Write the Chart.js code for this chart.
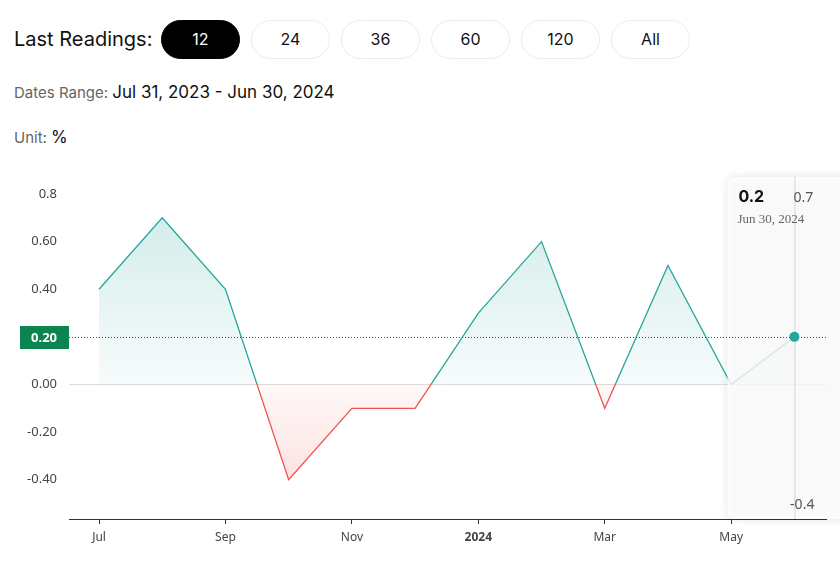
<!DOCTYPE html>
<html>
<head>
<meta charset="utf-8">
<script src="https://cdn.jsdelivr.net/npm/chart.js@4.4.1/dist/chart.umd.min.js"></script>
<style>
  body { margin: 0; width: 840px; height: 578px; overflow: hidden; background: #fff; font-family: Inter, "Noto Sans", sans-serif; }
  .label { position: absolute; left: 14px; top: 20px; height: 39px; line-height: 39px; font-size: 20px; color: #111; }
  .btns { position: absolute; left: 161px; top: 20px; display: flex; gap: 11px; }
  .btn { width: 77px; height: 37px; border: 1px solid #ececec; border-radius: 20px; text-align: center; line-height: 37px; font-size: 16px; color: #111; }
  .btn.active { background: #000; color: #fff; border-color: #000; }
  .row { position: absolute; left: 14px; font-size: 15px; color: #666; }
  .row b { font-weight: 400; color: #111; font-size: 17px; }
  #wrap { position: absolute; left: 0; top: 160px; }
</style>
</head>
<body>
<div class="label">Last Readings:</div>
<div class="btns" id="btns"></div>
<div class="row" style="top:82px">Dates Range: <b>Jul 31, 2023 - Jun 30, 2024</b></div>
<div class="row" style="top:127px">Unit: <b>%</b></div>
<div id="wrap"><canvas id="chart" width="840" height="418"></canvas></div>
<script>
const rangeButtons = ["12", "24", "36", "60", "120", "All"];
const dates = ["Jul 31, 2023", "Aug 31, 2023", "Sep 30, 2023", "Oct 31, 2023", "Nov 30, 2023", "Dec 31, 2023",
  "Jan 31, 2024", "Feb 29, 2024", "Mar 31, 2024", "Apr 30, 2024", "May 31, 2024", "Jun 30, 2024"];
const values = [0.4, 0.7, 0.4, -0.4, -0.1, -0.1, 0.3, 0.6, -0.1, 0.5, 0.0, 0.2];
const xTickIdx = [0, 2, 4, 6, 8, 10];
const xTickLabels = ["Jul", "Sep", "Nov", "2024", "Mar", "May"];
const yTickValues = [0.8, 0.6, 0.4, 0.2, 0, -0.2, -0.4];
const yTickLabels = ["0.8", "0.60", "0.40", "0.20", "0.00", "-0.20", "-0.40"];

const teal = "#26a69a";
const red = "#ef5350";

rangeButtons.forEach((b, i) => {
  const el = document.createElement("div");
  el.className = "btn" + (i === 0 ? " active" : "");
  el.textContent = b;
  document.getElementById("btns").appendChild(el);
});

// split colour at the zero line
const splitGradient = (chart, top, mid1, mid2, bottom) => {
  const { ctx, chartArea, scales } = chart;
  const s = (scales.y.getPixelForValue(0) - chartArea.top) / (chartArea.bottom - chartArea.top);
  const g = ctx.createLinearGradient(0, chartArea.top, 0, chartArea.bottom);
  g.addColorStop(0, top);
  g.addColorStop(s, mid1);
  g.addColorStop(s, mid2);
  g.addColorStop(1, bottom);
  return g;
};

const overlay = {
  id: "overlay",
  afterDatasetsDraw(chart) {
    const { ctx, chartArea: a, scales: { x, y } } = chart;
    const last = values.length - 1;
    const px = x.getPixelForValue(last);
    const py = y.getPixelForValue(values[last]);

    // hover panel
    ctx.save();
    ctx.shadowColor = "rgba(0,0,0,0.15)";
    ctx.shadowBlur = 8;
    ctx.fillStyle = "rgba(255,255,255,0.8)";
    ctx.beginPath();
    ctx.roundRect(px - 67, a.top - 17, 140, a.bottom - a.top + 17, 8);
    ctx.fill();
    ctx.restore();

    ctx.save();
    // crosshair
    ctx.strokeStyle = "#d4d4d4";
    ctx.lineWidth = 1;
    ctx.beginPath();
    ctx.moveTo(px + 0.5, a.top - 17);
    ctx.lineTo(px + 0.5, a.bottom);
    ctx.stroke();

    // dotted last-value line
    ctx.strokeStyle = "#0b6b4a";
    ctx.setLineDash([1, 2]);
    ctx.beginPath();
    ctx.moveTo(a.left, Math.round(py) + 0.5);
    ctx.lineTo(a.right, Math.round(py) + 0.5);
    ctx.stroke();
    ctx.setLineDash([]);

    // last point
    ctx.fillStyle = teal;
    ctx.beginPath();
    ctx.arc(px, py, 5, 0, Math.PI * 2);
    ctx.fill();

    // value badge on y axis
    ctx.fillStyle = "#0a8550";
    ctx.fillRect(20, Math.round(py) - 11, a.left - 20, 23);
    ctx.fillStyle = "#fff";
    ctx.font = "bold 13px 'Noto Sans'";
    ctx.textAlign = "right";
    ctx.textBaseline = "middle";
    ctx.fillText(values[last].toFixed(2), a.left - 12, py + 1);

    // panel texts
    ctx.textAlign = "left";
    ctx.fillStyle = "#111";
    ctx.font = "bold 16px Inter, 'Noto Sans'";
    ctx.fillText(String(values[last]), px - 56, a.top + 3);
    ctx.fillStyle = "#555";
    ctx.font = "14px 'Noto Sans'";
    ctx.fillText(String(Math.max(...values)), px - 1, a.top + 4);
    ctx.fillStyle = "#666";
    ctx.font = "13px 'Liberation Serif'";
    ctx.fillText(dates[last], px - 57, a.top + 26);
    ctx.fillStyle = "#555";
    ctx.font = "14px 'Noto Sans'";
    ctx.textAlign = "right";
    ctx.fillText(String(Math.min(...values)), px + 20, a.bottom - 14);
    ctx.restore();
  },
};

new Chart(document.getElementById("chart"), {
  type: "line",
  data: {
    datasets: [{
      data: values.map((v, i) => ({ x: i, y: v })),
      borderWidth: 1.3,
      pointRadius: 0,
      tension: 0,
      fill: "origin",
      borderColor: (c) => c.chart.chartArea ? splitGradient(c.chart, teal, teal, red, red) : teal,
      backgroundColor: (c) => c.chart.chartArea
        ? splitGradient(c.chart, "rgba(38,166,154,0.22)", "rgba(38,166,154,0.04)", "rgba(239,83,80,0.04)", "rgba(239,83,80,0.22)")
        : "transparent",
    }],
  },
  options: {
    responsive: false,
    animation: false,
    events: [],
    layout: { padding: { top: 34, right: 14, left: 0, bottom: 0 } },
    plugins: { legend: { display: false }, tooltip: { enabled: false } },
    scales: {
      x: {
        type: "linear",
        min: -0.475,
        max: 11.5,
        afterBuildTicks: (s) => { s.ticks = xTickIdx.map((v) => ({ value: v })); },
        afterFit: (s) => { s.height = 59; },
        ticks: {
          autoSkip: false,
          maxRotation: 0,
          padding: 6,
          color: "#444",
          font: (c) => ({ family: "'Noto Sans'", size: 12, weight: c.tick && c.tick.label === "2024" ? "bold" : "normal" }),
          callback: (v) => xTickLabels[xTickIdx.indexOf(v)],
        },
        grid: { drawOnChartArea: false, drawTicks: true, tickLength: 5, color: "#333" },
        border: { display: true, color: "#333" },
      },
      y: {
        min: -0.565,
        max: 0.8,
        afterBuildTicks: (s) => { s.ticks = yTickValues.map((v) => ({ value: v })); },
        afterFit: (s) => { s.width = 69; },
        ticks: {
          padding: 12,
          color: "#444",
          font: { family: "'Noto Sans'", size: 13 },
          callback: (v) => yTickLabels[yTickValues.indexOf(v)],
        },
        grid: {
          drawTicks: false,
          color: (c) => (c.tick && c.tick.value === 0 ? "#dcdcdc" : "transparent"),
        },
        border: { display: false },
      },
    },
  },
  plugins: [overlay],
});
</script>
</body>
</html>
